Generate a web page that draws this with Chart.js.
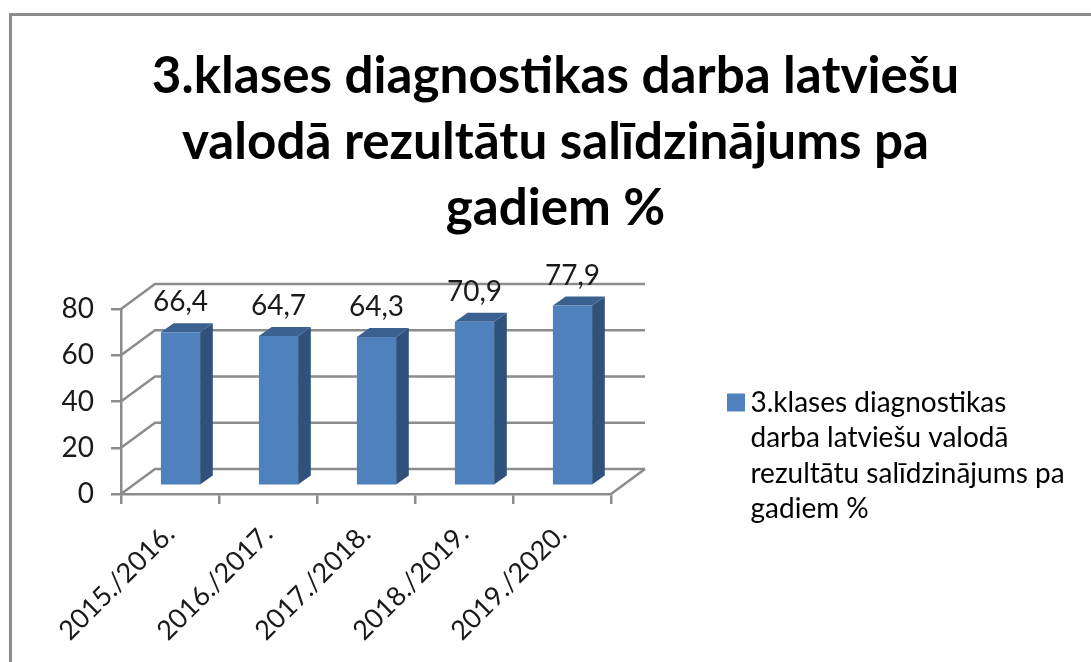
<!DOCTYPE html>
<html>
<head>
<meta charset="utf-8">
<script src="https://cdn.jsdelivr.net/npm/chart.js@4"></script>
<style>
  html, body { margin: 0; padding: 0; background: #fff; overflow: hidden; }
  #frame { position: absolute; left: 9px; top: 13px; right: -6px; bottom: -6px; border: 3px solid #8c8c8c; }
  canvas { position: absolute; left: 0; top: 0; }
</style>
</head>
<body>
<div id="frame"></div>
<canvas id="chart" width="1091" height="662"></canvas>
<script>
// --------------------
// Data
// --------------------
const titleLines = ["3.klases diagnostikas darba latviešu", "valodā rezultātu salīdzinājums pa", "gadiem %"];
const legendLines = ["3.klases diagnostikas", "darba latviešu valodā", "rezultātu salīdzinājums pa", "gadiem %"];
const categories = ["2015./2016.", "2016./2017.", "2017./2018.", "2018./2019.", "2019./2020."];
const values = [66.4, 64.7, 64.3, 70.9, 77.9];

// Colors
const colors = {
  front: "#4f81bd",
  side: "#30517b",
  top: "#3a618f",
  grid: "#8c8c8c",
  text: "#1a1a1a"
};

// 3D look, in pixels
const WALL_DX = 34;
const WALL_DY = 25;
const BAR_SHIFT_X = 10.5;
const BAR_SHIFT_Y = 8.3;
const BAR_DEPTH_X = 12.7;
const BAR_DEPTH_Y = 9;
const LEGEND_WIDTH = 480;

const FONT = "Lato, 'Open Sans', sans-serif";

// --------------------
// Plugins
// --------------------

function polygon(ctx, points, fill) {
  ctx.beginPath();
  points.forEach((p, i) => (i ? ctx.lineTo(p[0], p[1]) : ctx.moveTo(p[0], p[1])));
  ctx.closePath();
  ctx.fillStyle = fill;
  ctx.fill();
}

// back wall, side wall and floor lines
const wallPlugin = {
  id: "wall",
  beforeDatasetsDraw(chart) {
    const { ctx, chartArea: a, scales: { y } } = chart;
    ctx.save();
    ctx.strokeStyle = colors.grid;
    ctx.lineWidth = 2.5;
    y.ticks.forEach(t => {
      const py = y.getPixelForValue(t.value);
      ctx.beginPath();
      ctx.moveTo(a.left, py);
      ctx.lineTo(a.left + WALL_DX, py - WALL_DY);
      ctx.lineTo(a.right + WALL_DX, py - WALL_DY);
      ctx.stroke();
    });
    ctx.beginPath();
    ctx.moveTo(a.right, a.bottom);
    ctx.lineTo(a.right + WALL_DX, a.bottom - WALL_DY);
    ctx.stroke();
    ctx.restore();
  }
};

// moves the bars off the front plane and gives them a side and a top
const bar3dPlugin = {
  id: "bar3d",
  beforeDatasetDraw(chart, args) {
    const ctx = chart.ctx;
    ctx.save();
    ctx.translate(BAR_SHIFT_X, -BAR_SHIFT_Y);
    args.meta.data.forEach(bar => {
      const l = bar.x - bar.width / 2;
      const r = bar.x + bar.width / 2;
      polygon(ctx, [[r, bar.y], [r + BAR_DEPTH_X, bar.y - BAR_DEPTH_Y], [r + BAR_DEPTH_X, bar.base - BAR_DEPTH_Y], [r, bar.base]], colors.side);
      polygon(ctx, [[l, bar.y], [l + BAR_DEPTH_X, bar.y - BAR_DEPTH_Y], [r + BAR_DEPTH_X, bar.y - BAR_DEPTH_Y], [r, bar.y]], colors.top);
    });
  },
  afterDatasetDraw(chart) {
    chart.ctx.restore();
  },
  afterDatasetsDraw(chart) {
    const ctx = chart.ctx;
    ctx.save();
    ctx.font = "28px " + FONT;
    ctx.fillStyle = colors.text;
    ctx.textAlign = "center";
    ctx.textBaseline = "alphabetic";
    chart.getDatasetMeta(0).data.forEach((bar, i) => {
      ctx.fillText(String(values[i]).replace(".", ","), bar.x + BAR_SHIFT_X, bar.y - BAR_SHIFT_Y - 21);
    });
    ctx.restore();
  }
};

// the legend keeps a fixed block on the right, so the plot ends where it should
const legendPlacePlugin = {
  id: "legendPlace",
  beforeLayout(chart) {
    const legend = chart.legend;
    if (legend._fixedFit) return;
    const fit = legend.fit;
    legend.fit = function () {
      fit.call(this);
      this.width = LEGEND_WIDTH;
    };
    legend._fixedFit = true;
  },
  afterLayout(chart) {
    const legend = chart.legend;
    legend.left = 727;
    legend.right = 1091;
    legend.top = 380;
    legend.bottom = 662;
  }
};

// --------------------
// Chart
// --------------------
new Chart(document.getElementById("chart"), {
  type: "bar",
  data: {
    labels: categories,
    datasets: [{
      label: legendLines.join(" "),
      data: values,
      backgroundColor: colors.front,
      barPercentage: 0.4,
      categoryPercentage: 1,
      clip: false
    }]
  },
  options: {
    responsive: false,
    animation: false,
    layout: { padding: { left: 20 } },
    plugins: {
      title: {
        display: true,
        text: titleLines,
        color: "#000",
        font: { family: FONT, size: 51.2, weight: "bold", lineHeight: 66 / 51.2 },
        padding: { top: 43, bottom: 68 }
      },
      legend: {
        position: "right",
        align: "start",
        labels: {
          color: colors.text,
          font: { family: FONT, size: 28, lineHeight: 35.5 / 28 },
          padding: 8.5,
          usePointStyle: true,
          boxWidth: 1,
          boxHeight: 18,
          generateLabels: () => [{
            text: legendLines,
            fillStyle: colors.front,
            strokeStyle: colors.front,
            lineWidth: 0,
            pointStyle: "rect",
            hidden: false,
            datasetIndex: 0
          }]
        }
      },
      tooltip: { enabled: false }
    },
    scales: {
      x: {
        afterFit: scale => { scale.height = 168; },
        border: { color: colors.grid, width: 2.5 },
        grid: { drawOnChartArea: false, color: colors.grid, lineWidth: 2.5, tickLength: 10 },
        ticks: {
          color: colors.text,
          font: { family: FONT, size: 27 },
          minRotation: 45,
          maxRotation: 45,
          padding: 14
        }
      },
      y: {
        min: 0,
        max: 80,
        afterFit: scale => { scale.width = 101; },
        border: { color: colors.grid, width: 2.5 },
        grid: { drawOnChartArea: false, color: colors.grid, lineWidth: 2.5, tickLength: 10 },
        ticks: {
          stepSize: 20,
          color: colors.text,
          font: { family: FONT, size: 28 },
          padding: 17
        }
      }
    }
  },
  plugins: [wallPlugin, bar3dPlugin, legendPlacePlugin]
});
</script>
</body>
</html>
